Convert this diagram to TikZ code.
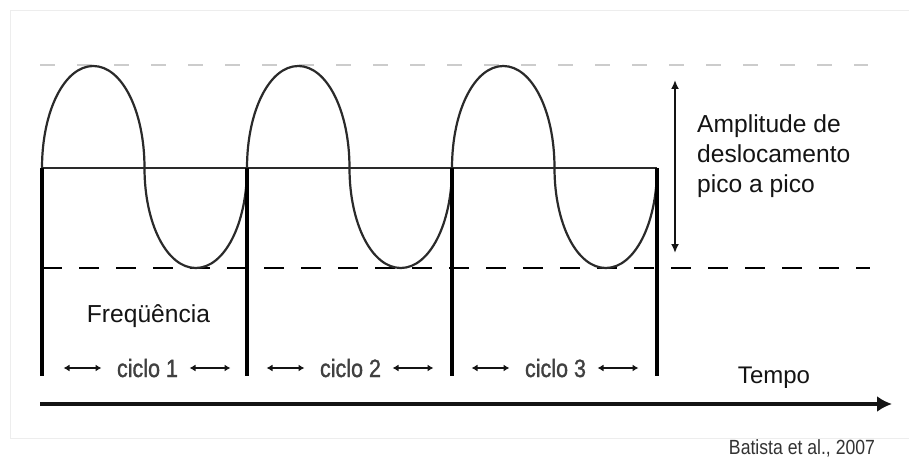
\documentclass[tikz,border=0pt]{standalone}
\usepackage{fontspec}
\setmainfont{Liberation Sans}
\newfontfamily\narrowsans[FakeStretch=0.86]{Liberation Sans}
\newfontfamily\narrowheavy[FakeStretch=0.86,FakeBold=1.2]{Liberation Sans}
\usetikzlibrary{arrows.meta}
\definecolor{inkc}{HTML}{141414}
\definecolor{wavec}{HTML}{2A2A2A}
\definecolor{cyclec}{HTML}{404040}
\tikzset{
  wave/.style={draw=wavec, line width=2.2pt},
  levelline/.style={draw=wavec, line width=2.6pt},
  divider/.style={draw=black, line width=3.4pt},
  peakdash/.style={draw=black!20, line width=1.6pt, dash pattern=on 15pt off 22pt},
  troughdash/.style={draw=black, line width=2.8pt, dash pattern=on 20pt off 17pt},
  cyclearrow/.style={draw=inkc, line width=1.8pt, {Latex[length=6pt,width=7pt]}-{Latex[length=6pt,width=7pt]}},
  bigtext/.style={font=\fontsize{24.6}{30}\selectfont, text=inkc, inner sep=0pt},
  cycletext/.style={font=\narrowheavy\fontsize{25}{30}\selectfont, text=cyclec, inner sep=0pt, anchor=base},
}
\begin{document}
\begin{tikzpicture}[x=1pt,y=-1pt]
\useasboundingbox (0,0) rectangle (909,457);
\fill[white] (0,0) rectangle (909,457);
\draw[black!7, line width=0.8pt] (909,10) -- (10,10) -- (10,438) -- (909,438);
% reference levels
\coordinate (pkL) at (40,65);
\coordinate (pkR) at (868,65);
\draw[peakdash] (pkL) -- (pkR);
\coordinate (trL) at (42,268);
\coordinate (trR) at (870,268);
\draw[troughdash] (trL) -- (trR);
\coordinate (mdL) at (42,168);
\coordinate (mdR) at (657,168);
\draw[levelline] (mdL) -- (mdR);
% waves (elliptic half-cycles)
\def\kk{0.56}
\foreach \i in {0,1,2}{
  \begin{scope}[xshift=\i*205pt]
    \draw[wave] (42,168)
      .. controls (42,{168-\kk*102}) and ({93.25-\kk*51.25},66) .. (93.25,66)
      .. controls ({93.25+\kk*51.25},66) and (144.5,{168-\kk*102}) .. (144.5,168)
      .. controls (144.5,{168+\kk*100}) and ({195.75-\kk*51.25},268) .. (195.75,268)
      .. controls ({195.75+\kk*51.25},268) and (247,{168+\kk*100}) .. (247,168);
  \end{scope}
}
% dividers
\foreach \x/\n in {42/a,247/b,452/c,657/d}{
  \coordinate (top\n) at (\x,168);
  \coordinate (bot\n) at (\x,376);
  \draw[divider] (top\n) -- (bot\n);
}
% amplitude arrow
\coordinate (ampT) at (675,80);
\coordinate (ampB) at (675,253);
\draw[draw=inkc, line width=2pt, {Latex[length=9pt,width=8pt]}-{Latex[length=9pt,width=8pt]}] (ampT) -- (ampB);
\node[bigtext, anchor=north west, align=left] (amp) at (697,114.5) {Amplitude de\\deslocamento\\pico a pico};
% frequency
\node[bigtext, anchor=base] (freq) at (148.5,322) {Freqüência};
% cycles
\foreach \c/\n in {147.5/1,350.5/2,555.5/3}{
  \node[cycletext] (cyc\n) at (\c,377) {ciclo \n};
  \coordinate (la\n) at ({\c-84},368);
  \coordinate (lb\n) at ({\c-46},368);
  \coordinate (ra\n) at ({\c+42},368);
  \coordinate (rb\n) at ({\c+83},368);
  \draw[cyclearrow] (la\n) -- (lb\n);
  \draw[cyclearrow] (ra\n) -- (rb\n);
}
% time axis
\coordinate (axL) at (40,404);
\coordinate (axR) at (892,404);
\draw[draw=inkc, line width=3.6pt, -{Latex[length=15pt,width=16pt]}] (axL) -- (axR);
\node[font=\fontsize{24}{28}\selectfont, text=inkc, inner sep=0pt, anchor=base] (tempo) at (774,383) {Tempo};
\node[font=\narrowsans\fontsize{20.5}{24}\selectfont, text=black!80, inner sep=0pt, anchor=base] (cite) at (802,454) {Batista et al., 2007};
\end{tikzpicture}
\end{document}
